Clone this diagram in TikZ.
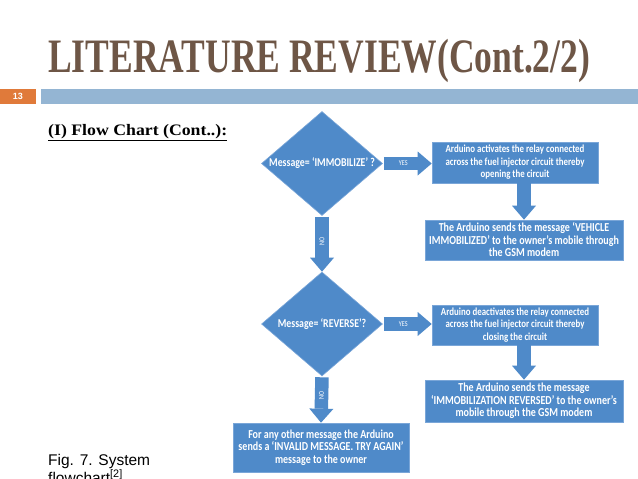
\documentclass[tikz,border=0pt]{standalone}
\usepackage{fontspec}
\usetikzlibrary{shapes.geometric,arrows.meta,calc}
\setmainfont{Liberation Serif}
\newfontfamily\titlefont[FakeStretch=0.74]{Liberation Serif}
\newfontfamily\subfont[FakeStretch=1.11]{Liberation Serif}
\newfontfamily\boxfont[FakeStretch=0.82]{Carlito}
\newfontfamily\capfont{Liberation Sans}
\definecolor{fcblue}{HTML}{4F8AC9}
\definecolor{fcedge}{HTML}{7AA6D8}
\definecolor{titlebrown}{HTML}{6E5646}
\definecolor{barblue}{HTML}{94B5D3}
\definecolor{barorange}{HTML}{E07A3A}
\tikzset{
  shapebase/.style={fill=fcblue, draw=fcedge, line width=0.6pt, text=white, align=center, inner sep=0pt},
  procbox/.style 2 args={shapebase, rectangle, minimum width=#1, minimum height=#2},
  smalltxt/.style={font=\boxfont\bfseries\fontsize{10.8}{12.5}\selectfont},
  bigtxt/.style={font=\boxfont\bfseries\fontsize{12.2}{12.5}\selectfont},
  decision/.style={shapebase, diamond, aspect=1.17, minimum width=121pt, minimum height=104pt, font=\boxfont\bfseries\fontsize{12}{12.5}\selectfont},
  blockarrow/.style={draw=fcblue, line width=13.5pt, -{Triangle[width=24pt,length=14pt,line width=0pt]}},
  arrowlabel/.style={text=white, font=\boxfont\fontsize{7.5}{8}\selectfont, inner sep=0pt}
}
\begin{document}
\begin{tikzpicture}[x=1pt,y=-1pt]
\path[use as bounding box, clip] (0,0) rectangle (638,479);
\fill[white] (0,0) rectangle (638,479);
% title and header bar
\node[anchor=base west, inner sep=0pt, text=titlebrown, font=\titlefont\bfseries\fontsize{48}{48}\selectfont] (title) at (48,72) {LITERATURE REVIEW(Cont.2/2)};
\fill[barorange] (0,89) rectangle (36,104);
\node[text=white, font=\capfont\bfseries\fontsize{9}{9}\selectfont, inner sep=0pt] (pagenum) at (18,96.5) {13};
\fill[barblue] (41,89) rectangle (638,104);
\node[anchor=base west, inner sep=0pt, font=\subfont\bfseries\fontsize{16}{16}\selectfont] (subtitle) at (48,135) {\underline{(I) Flow Chart (Cont..):}};
% flowchart
\node[decision] (d1) at (322,163.5) {Message= ‘IMMOBILIZE’ ?};
\node[procbox={166pt}{41pt}, smalltxt] (b1) at (515,162.5) {Arduino activates the relay connected\\across the fuel injector circuit thereby\\opening the circuit};
\node[procbox={198pt}{40pt}, bigtxt] (b2) at (524,240) {The Arduino sends the message ‘VEHICLE\\IMMOBILIZED’ to the owner’s mobile through\\the GSM modem};
\node[decision] (d2) at (322,324) {Message= ‘REVERSE’?};
\node[procbox={166pt}{40pt}, smalltxt] (b3) at (515,325) {Arduino deactivates the relay connected\\across the fuel injector circuit thereby\\closing the circuit};
\node[procbox={198pt}{42pt}, bigtxt] (b4) at (524,401) {The Arduino sends the message\\‘IMMOBILIZATION REVERSED’ to the owner’s\\mobile through the GSM modem};
\node[procbox={176pt}{49pt}, bigtxt] (b5) at (321,447.5) {For any other message the Arduino\\sends a ‘INVALID MESSAGE. TRY AGAIN’\\message to the owner};
% connectors
\draw[blockarrow, shorten <=1pt] (d1.east) -- (d1.east -| b1.west) node[pos=0.42, arrowlabel] {YES};
\draw[blockarrow] (b1.south -| b2.north) -- (b2.north);
\draw[blockarrow, shorten <=1pt] (d1.south) -- (d2.north) node[pos=0.46, arrowlabel, rotate=90] {NO};
\draw[blockarrow, shorten <=1pt] (d2.east) -- (d2.east -| b3.west) node[pos=0.42, arrowlabel] {YES};
\draw[blockarrow] (b3.south -| b4.north) -- (b4.north);
\draw[blockarrow, shorten <=1pt] (d2.south) -- (b5.north) node[pos=0.42, arrowlabel, rotate=90] {NO};
% caption
\node[anchor=base west, inner sep=0pt, font=\capfont\fontsize{15.5}{18}\selectfont] (cap1) at (48,465) {Fig. 7. System};
\node[anchor=base west, inner sep=0pt, font=\capfont\fontsize{15.5}{18}\selectfont] (cap2) at (48,483) {flowchart\textsuperscript{[2]}};
\end{tikzpicture}
\end{document}
